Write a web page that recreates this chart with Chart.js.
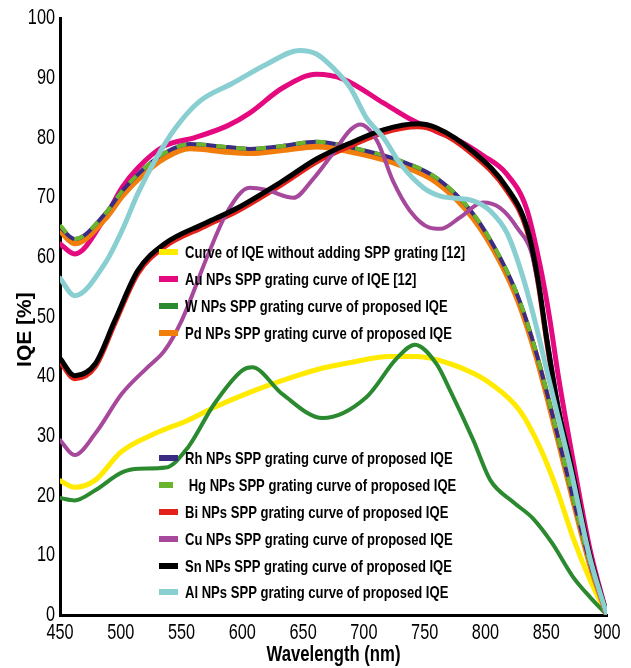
<!DOCTYPE html>
<html><head><meta charset="utf-8">
<script src="https://cdn.jsdelivr.net/npm/chart.js@4/dist/chart.umd.min.js"></script>
<style>html,body{margin:0;padding:0;background:#fff}#wrap{width:631px;height:668px}</style>
</head><body><div id="wrap"><canvas id="c" width="631" height="668"></canvas></div>
<script>
// Wavelength (nm) and IQE (%)
const wlNone = [450,462,479,500,528,555,577,606,633,661,689,721,744,771,790,804,828,845,859,872,886,900];
const iqeNone = [22.5,21.4,22.6,27.3,30.4,32.6,34.8,37.3,39.3,41.1,42.3,43.3,43.3,42.1,40.5,38.8,34.3,28,20.9,13,5.9,0];

const wlAu = [450,462,487,501,514,536,561,588,606,633,661,683,716,738,760,779,798,817,834,845,853,860,872,886,900];
const iqeAu = [62.2,60.5,66.6,71.6,74.9,78.6,80,82,84.1,88.3,90.6,89.8,85.8,83.1,81,79.4,77,74,68,58.5,49.5,40,26,11,0];

const wlW = [450,462,479,501,515,537,555,577,600,608,633,666,702,727,742,760,771,790,804,823,839,855,872,886,900];
const iqeW = [19.6,19.2,20.9,23.9,24.5,24.7,28,35.4,41,41.5,37,33,36.5,43,45.3,42,37.6,29.3,22.6,18.9,16.2,12,6.4,3,0];

const wlRhHg = [450,462,487,501,517,536,557,588,606,633,661,697,730,760,790,812,828,842,859,872,886,900];
const iqePd = [64.4,62.3,66.4,70.2,73.6,76.6,78.2,77.6,77.4,77.9,78.5,77.3,75.4,72.5,66.5,59.3,52.1,43.3,30,19.4,8.5,0];
const iqeRh = [65,63,67.2,71,74.4,77.4,78.9,78.4,78.1,78.6,79.3,78,76.1,73.2,67.2,59.9,52.7,43.8,30.4,19.7,8.7,0];
const iqeHg = [65.3,63,67.2,71,74.4,77.4,78.9,78.4,78.1,78.6,79.3,78,76.1,73.2,67.2,59.9,52.7,43.8,30.4,19.7,8.7,0];

const wlSn = [450,462,479,495,514,536,569,596,633,661,689,716,744,760,790,818,834,843,851,860,870,886,900];
const iqeSn = [43,40.1,42.1,49.3,57.7,62.2,65.6,68.2,72.7,76.4,79.1,81.3,82.3,81.6,77.6,71.5,65,56.5,45.5,34.5,25.5,10,0];
const iqeBi = [42.5,39.6,41.6,48.8,57.2,61.7,65.1,67.7,72.2,75.9,78.6,80.8,81.8,81.1,77.1,71,64.5,56,45,34,25,9.7,0];

const wlCu = [450,462,479,501,522,536,550,572,588,606,620,642,658,675,689,697,711,724,738,754,763,779,798,812,826,839,851,860,870,886,900];
const iqeCu = [29.3,26.8,30.4,37.1,41.5,44.3,49.3,60.5,67.7,71.6,71.2,69.9,73,77.5,81.3,82.2,79.4,72.7,67.7,64.9,64.7,66.6,69.1,68.2,64.9,59.9,46,35,25.5,10,0];

const wlAl = [450,462,487,501,514,528,545,565,592,620,647,661,675,689,702,716,730,749,763,790,804,818,831,842,851,860,870,886,900];
const iqeAl = [56.4,53.5,58.9,64.4,70.6,76.1,81.6,86.1,89.1,92.3,94.6,94,91.6,88.3,83.3,80,75.6,71.6,70.2,69.4,67.7,63.9,56.5,48.2,40.5,33,24.5,9.5,0];

const xTicks = [450,500,550,600,650,700,750,800,850,900];
const yTicks = [0,10,20,30,40,50,60,70,80,90,100];

const seriesNames = [
  "Curve of IQE without adding SPP grating [12]",
  "Au NPs SPP grating curve of IQE [12]",
  "W NPs SPP grating curve of proposed IQE",
  "Pd NPs SPP grating curve of proposed IQE",
  "Rh NPs SPP grating curve of proposed IQE",
  " Hg NPs SPP grating curve of proposed IQE",
  "Bi NPs SPP grating curve of proposed IQE",
  "Cu NPs SPP grating curve of proposed IQE",
  "Sn NPs SPP grating curve of proposed IQE",
  "Al NPs SPP grating curve of proposed IQE"
];

function pts(xs, ys){ return xs.map((x,i)=>({x:x, y:ys[i]})); }

const FONT = "'Liberation Sans', Arial, sans-serif";

function ds(label, xs, ys, color, width, order, extra){
  return Object.assign({
    label: label, data: pts(xs, ys), borderColor: color, backgroundColor: color,
    borderWidth: width, pointRadius: 0, fill: false, cubicInterpolationMode: 'monotone',
    order: order, borderCapStyle: 'round', borderJoinStyle: 'round'
  }, extra || {});
}

const datasets = [
  ds(seriesNames[0], wlNone, iqeNone, '#FFEA00', 5, 9),
  ds(seriesNames[1], wlAu, iqeAu, '#E4097F', 5, 8),
  ds(seriesNames[2], wlW, iqeW, '#2B8A2F', 4, 7),
  ds(seriesNames[3], wlRhHg, iqePd, '#F07D0C', 6, 6),
  ds(seriesNames[4], wlRhHg, iqeRh, '#3B2C83', 4, 5),
  ds(seriesNames[5], wlRhHg, iqeHg, '#6AB42E', 4, 4, {borderDash:[10,10], borderCapStyle:'butt'}),
  ds(seriesNames[6], wlSn, iqeBi, '#E3231B', 5, 3),
  ds(seriesNames[7], wlCu, iqeCu, '#A6489B', 4, 2),
  ds(seriesNames[8], wlSn, iqeSn, '#000000', 5, 1),
  ds(seriesNames[9], wlAl, iqeAl, '#89CED1', 5, 0)
];

// Narrow-type rendering of axis text (reference uses a condensed face)
const condense = {
  id: 'condense',
  beforeDraw(chart, args, o){
    const ctx = chart.ctx;
    ['x','y'].forEach(id => {
      const s = chart.scales[id];
      s.getLabelItems().forEach(it => {
        ctx.save(); ctx.font = it.font.string;
        it.options.maxWidth = ctx.measureText(String(it.label)).width * o.tickFactor;
        ctx.restore();
      });
      if (!s._condensed) {
        const orig = s.drawTitle.bind(s);
        if (id === 'x') {
          s.drawTitle = function(){
            const c = this.ctx; c.save();
            c.font = "bold " + o.xTitleSize + "px " + FONT;
            const f = o.xTitleWidth / c.measureText(this.options.title.text).width;
            const cx = (this.left + this.right) / 2;
            c.translate(cx, 0); c.scale(f, 1); c.translate(-cx, 0);
            orig(); c.restore();
          };
        } else {
          s.drawTitle = function(){
            const c = this.ctx; c.save();
            c.translate(0, o.yTitleShift);
            orig(); c.restore();
          };
        }
        s._condensed = true;
      }
    });
  }
};

const insideLegend = {
  id: 'insideLegend',
  afterDatasetsDraw(chart, args, o){
    const ctx = chart.ctx;
    ctx.save();
    ctx.font = o.font;
    ctx.textBaseline = 'middle';
    ctx.textAlign = 'left';
    const ref = ctx.measureText(chart.data.datasets[0].label).width;
    const sx = o.firstWidth / ref;
    chart.data.datasets.forEach((d, i) => {
      const y = o.rows[i];
      ctx.fillStyle = d.borderColor;
      ctx.fillRect(o.sampleX, y - 3, o.sampleW[i], 6);
      ctx.fillStyle = '#000';
      const w = ctx.measureText(d.label).width;
      ctx.fillText(d.label, o.textX, y + 1, w * sx);
    });
    ctx.restore();
  }
};

new Chart(document.getElementById('c'), {
  type: 'line',
  data: { datasets: datasets },
  options: {
    responsive: false, animation: false, devicePixelRatio: 1,
    layout: { padding: { top: 17, right: 24, left: 0, bottom: 0 } },
    plugins: {
      legend: { display: false }, tooltip: { enabled: false },
      condense: { tickFactor: 0.74, xTitleSize: 22, xTitleWidth: 134, yTitleShift: 13 },
      insideLegend: {
        font: "bold 17px " + FONT,
        firstWidth: 280,
        rows: [252,279,306,333,458,485,512,539,566,592],
        sampleX: 159,
        sampleW: [19,19,19,19,19,14,19,19,19,19],
        textX: 185
      }
    },
    scales: {
      x: {
        type: 'linear', min: 450, max: 900,
        afterBuildTicks: (s) => { s.ticks = xTicks.map(v => ({value: v})); },
        afterFit: (s) => { s.height = 53; },
        grid: { display: false, drawTicks: false },
        border: { display: true, color: '#000', width: 3 },
        ticks: { color: '#000', font: { family: FONT, size: 22 }, padding: 5, maxRotation: 0, autoSkip: false },
        title: { display: true, text: 'Wavelength (nm)', color: '#000', font: { family: FONT, size: 22, weight: 'bold' }, padding: { top: 0, bottom: 0 } }
      },
      y: {
        type: 'linear', min: 0, max: 100,
        afterBuildTicks: (s) => { s.ticks = yTicks.map(v => ({value: v})); },
        afterFit: (s) => { s.width = 60; },
        grid: { display: false, drawTicks: false },
        border: { display: true, color: '#000', width: 3 },
        ticks: { color: '#000', font: { family: FONT, size: 22 }, padding: 5, autoSkip: false },
        title: { display: true, text: 'IQE [%]', color: '#000', font: { family: FONT, size: 21, weight: 'bold' }, padding: { top: 13, bottom: 0 } }
      }
    }
  },
  plugins: [condense, insideLegend]
});
</script>
</body></html>
